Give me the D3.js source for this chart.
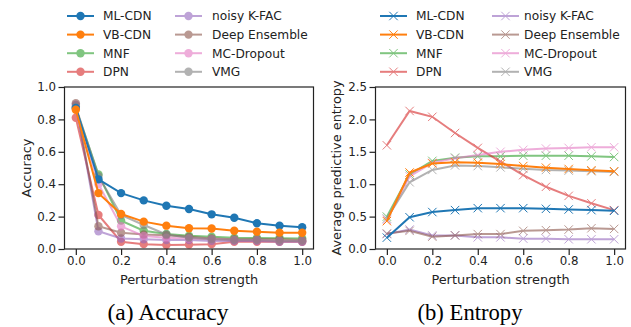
<!DOCTYPE html>
<html>
<head>
<meta charset="utf-8">
<script src="https://cdn.jsdelivr.net/npm/d3@7"></script>
<style>
  body { margin: 0; background: #fff; }
  text { font-family: "DejaVu Sans", sans-serif; }
</style>
</head>
<body>
<svg id="chart"></svg>
<script>
let width = 631
let height = 327

// data
const strengths = [0, 0.1, 0.2, 0.3, 0.4, 0.5, 0.6, 0.7, 0.8, 0.9, 1.0]
const methods = ['ML-CDN', 'VB-CDN', 'MNF', 'DPN', 'noisy K-FAC', 'Deep Ensemble', 'MC-Dropout', 'VMG']
const colors = ['#1f77b4', '#ff7f0e', '#2ca02c', '#d62728', '#9467bd', '#8c564b', '#e377c2', '#7f7f7f']

const accMLCDN = [0.87, 0.43, 0.345, 0.30, 0.267, 0.247, 0.214, 0.193, 0.159, 0.144, 0.134]
const accVBCDN = [0.86, 0.345, 0.216, 0.169, 0.144, 0.128, 0.127, 0.113, 0.107, 0.101, 0.10]
const accMNF = [0.87, 0.46, 0.175, 0.113, 0.093, 0.082, 0.076, 0.07, 0.068, 0.066, 0.065]
const accDPN = [0.81, 0.21, 0.045, 0.03, 0.025, 0.027, 0.03, 0.045, 0.045, 0.045, 0.045]
const accKFAC = [0.89, 0.11, 0.065, 0.06, 0.055, 0.055, 0.05, 0.05, 0.05, 0.045, 0.045]
const accEnsemble = [0.90, 0.14, 0.10, 0.09, 0.085, 0.075, 0.065, 0.06, 0.06, 0.06, 0.055]
const accDropout = [0.87, 0.40, 0.14, 0.08, 0.07, 0.065, 0.06, 0.055, 0.055, 0.05, 0.05]
const accVMG = [0.88, 0.45, 0.21, 0.148, 0.09, 0.07, 0.06, 0.055, 0.055, 0.05, 0.05]

const entMLCDN = [0.175, 0.49, 0.57, 0.60, 0.63, 0.63, 0.63, 0.62, 0.61, 0.60, 0.59]
const entVBCDN = [0.43, 1.18, 1.32, 1.34, 1.33, 1.31, 1.28, 1.255, 1.235, 1.215, 1.20]
const entMNF = [0.50, 1.15, 1.36, 1.41, 1.43, 1.43, 1.44, 1.44, 1.44, 1.43, 1.42]
const entDPN = [1.60, 2.13, 2.04, 1.79, 1.56, 1.35, 1.14, 0.96, 0.82, 0.705, 0.60]
const entKFAC = [0.23, 0.30, 0.21, 0.21, 0.18, 0.18, 0.16, 0.16, 0.15, 0.15, 0.15]
const entEnsemble = [0.24, 0.28, 0.19, 0.21, 0.23, 0.23, 0.28, 0.29, 0.30, 0.32, 0.31]
const entDropout = [0.45, 1.12, 1.33, 1.40, 1.45, 1.50, 1.53, 1.55, 1.56, 1.57, 1.57]
const entVMG = [0.47, 1.03, 1.22, 1.29, 1.28, 1.26, 1.24, 1.22, 1.21, 1.20, 1.19]

const accSeries = [accMLCDN, accVBCDN, accMNF, accDPN, accKFAC, accEnsemble, accDropout, accVMG]
const entSeries = [entMLCDN, entVBCDN, entMNF, entDPN, entKFAC, entEnsemble, entDropout, entVMG]

const xTicks = [0, 0.2, 0.4, 0.6, 0.8, 1.0]
const accTicks = [0, 0.2, 0.4, 0.6, 0.8, 1.0]
const entTicks = [0, 0.5, 1.0, 1.5, 2.0, 2.5]

let svg = d3.select('#chart').attr('width', width).attr('height', height)

// draw order: faded baselines first, the two CDN models on top
const drawOrder = [2, 3, 4, 5, 6, 7, 0, 1]

let drawPanel = (opts) => {
    let g = svg.append('g')
    let xScale = d3.scaleLinear().domain([-0.05, 1.05]).range([opts.left, opts.right])
    let yScale = d3.scaleLinear().domain(opts.yDomain).range([opts.bottom, opts.top])

    let line = d3.line()
        .x((d, i) => xScale(strengths[i]))
        .y(d => yScale(d))

    drawOrder.forEach(k => {
        let vals = opts.series[k]
        let strong = k < 2
        let s = g.append('g')
            .attr('opacity', strong ? 1 : 0.6)
        s.append('path')
            .attr('d', line(vals))
            .attr('fill', 'none')
            .attr('stroke', colors[k])
            .attr('stroke-width', 2)
        if (opts.marker == 'circle') {
            s.selectAll('circle')
                .data(vals)
                .enter()
                .append('circle')
                .attr('cx', (d, i) => xScale(strengths[i]))
                .attr('cy', d => yScale(d))
                .attr('r', 4.2)
                .attr('fill', colors[k])
        } else {
            s.selectAll('path.x')
                .data(vals)
                .enter()
                .append('path')
                .attr('class', 'x')
                .attr('d', d3.symbol(d3.symbolX, 48)())
                .attr('transform', (d, i) => 'translate(' + xScale(strengths[i]) + ',' + yScale(d) + ')')
                .attr('stroke', colors[k])
                .attr('stroke-width', 1)
                .attr('fill', 'none')
        }
    })

    // axes
    let xAxis = d3.axisBottom(xScale).tickValues(xTicks).tickFormat(d3.format('.1f')).tickSize(6).tickPadding(2)
    let yAxis = d3.axisLeft(yScale).tickValues(opts.ticks).tickFormat(d3.format('.1f')).tickSize(6).tickPadding(2.5)

    let gx = g.append('g')
        .attr('transform', 'translate(0,' + opts.bottom + ')')
        .call(xAxis)
    let gy = g.append('g')
        .attr('transform', 'translate(' + opts.left + ',0)')
        .call(yAxis)
    ;[gx, gy].forEach(a => {
        a.select('.domain').remove()
        a.selectAll('line').attr('stroke', '#222').attr('stroke-width', 1.2)
        a.selectAll('text').attr('font-size', 11.8).attr('fill', '#222')
            .style('font-family', '"DejaVu Sans", sans-serif')
    })

    // frame
    g.append('rect')
        .attr('x', opts.left).attr('y', opts.top)
        .attr('width', opts.right - opts.left).attr('height', opts.bottom - opts.top)
        .attr('fill', 'none').attr('stroke', '#222').attr('stroke-width', 1.2)

    // axis labels
    g.append('text')
        .attr('x', (opts.left + opts.right) / 2).attr('y', opts.bottom + 34.5)
        .attr('text-anchor', 'middle').attr('font-size', 12.9).attr('fill', '#222')
        .text('Perturbation strength')
    g.append('text')
        .attr('transform', 'translate(' + opts.yLabelX + ',' + ((opts.top + opts.bottom) / 2) + ') rotate(-90)')
        .attr('text-anchor', 'middle').attr('font-size', 12.9).attr('fill', '#222')
        .text(opts.yLabel)

    // caption
    svg.append('text')
        .attr('x', opts.captionX).attr('y', 320)
        .attr('text-anchor', 'middle')
        .attr('font-size', 24)
        .attr('textLength', opts.captionW)
        .attr('lengthAdjust', 'spacingAndGlyphs')
        .style('font-family', '"Liberation Serif", "Times New Roman", serif')
        .text(opts.caption)

    // legend, two columns of four
    methods.forEach((m, k) => {
        let col = Math.floor(k / 4)
        let row = k % 4
        let lx = opts.legendX[col]
        let ly = 16 + row * 18.6
        let item = svg.append('g').attr('opacity', k < 2 ? 1 : 0.6)
        item.append('line')
            .attr('x1', lx).attr('x2', lx + 27).attr('y1', ly).attr('y2', ly)
            .attr('stroke', colors[k]).attr('stroke-width', 2)
        if (opts.marker == 'circle') {
            item.append('circle').attr('cx', lx + 13.5).attr('cy', ly).attr('r', 4.2).attr('fill', colors[k])
        } else {
            item.append('path')
                .attr('d', d3.symbol(d3.symbolX, 48)())
                .attr('transform', 'translate(' + (lx + 13.5) + ',' + ly + ')')
                .attr('stroke', colors[k]).attr('stroke-width', 1).attr('fill', 'none')
        }
        svg.append('text')
            .attr('x', lx + opts.legendGap[col]).attr('y', ly + 4.4)
            .attr('font-size', 12.2).attr('fill', '#222')
            .text(m)
    })
}

drawPanel({
    left: 64.5, right: 313.5, top: 87, bottom: 249,
    yDomain: [0, 1], ticks: accTicks, series: accSeries,
    marker: 'circle', yLabel: 'Accuracy', yLabelX: 30.5,
    caption: '(a) Accuracy', captionX: 168, captionW: 121,
    legendX: [67, 175], legendGap: [36, 37]
})

drawPanel({
    left: 375.5, right: 625.5, top: 87, bottom: 249,
    yDomain: [0, 2.5], ticks: entTicks, series: entSeries,
    marker: 'x', yLabel: 'Average predictive entropy', yLabelX: 340.5,
    caption: '(b) Entropy', captionX: 470, captionW: 105,
    legendX: [380, 492], legendGap: [36, 32]
})
</script>
</body>
</html>
